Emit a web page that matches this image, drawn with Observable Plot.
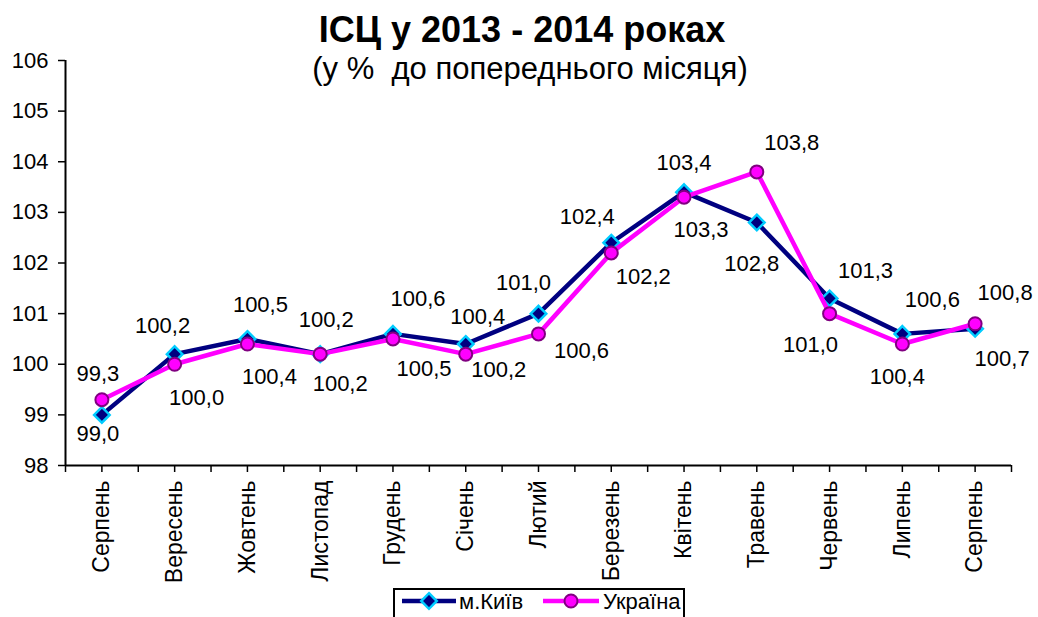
<!DOCTYPE html>
<html>
<head>
<meta charset="utf-8">
<script src="https://cdn.jsdelivr.net/npm/d3@7"></script>
<script src="https://cdn.jsdelivr.net/npm/@observablehq/plot@0.6"></script>
<style>
  body { margin: 0; background: #fff; font-family: "Liberation Sans", Arial, sans-serif; }
  #wrap { position: relative; width: 1038px; height: 617px; overflow: hidden; background: #fff; }
  #chart { position: absolute; left: 0; top: 0; }
  .ov { position: absolute; white-space: pre; color: #000; line-height: 1; }
  #title { left: 0; width: 1044px; text-align: center; top: 12px; font-size: 36px; font-weight: bold; }
  #subtitle { left: 0; width: 1060px; text-align: center; top: 53px; font-size: 31px; }
  #legend { position: absolute; left: 393px; top: 588px; width: 292px; height: 40px; border: 2px solid #000; box-sizing: border-box; background: #fff; }
  .lg { position: absolute; font-size: 22px; line-height: 1; top: 591px; }
  .sw { position: absolute; top: 591px; }
</style>
</head>
<body>
<div id="wrap">
  <div id="chart"></div>
  <div id="title" class="ov"></div>
  <div id="subtitle" class="ov"></div>
  <div id="legend"></div>
  <svg class="sw" id="sw0" style="left:402px" width="54" height="20"></svg>
  <div class="lg" id="lg0" style="left:459px"></div>
  <svg class="sw" id="sw1" style="left:543px" width="56" height="20"></svg>
  <div class="lg" id="lg1" style="left:603px"></div>
</div>
<script>
// ---- data ----
const titleText = "ІСЦ у 2013 - 2014 роках";
const subtitleText = "(у %  до попереднього місяця)";
const months = ["Серпень","Вересень","Жовтень","Листопад","Грудень","Січень","Лютий","Березень","Квітень","Травень","Червень","Липень","Серпень"];
const seriesNames = ["м.Київ", "Україна"];
const kyiv    = [99.0, 100.2, 100.5, 100.2, 100.6, 100.4, 101.0, 102.4, 103.4, 102.8, 101.3, 100.6, 100.7];
const ukraine = [99.3, 100.0, 100.4, 100.2, 100.5, 100.2, 100.6, 102.2, 103.3, 103.8, 101.0, 100.4, 100.8];
const yTicks = [98, 99, 100, 101, 102, 103, 104, 105, 106];

// ---- layout (label offsets in px, relative to point) ----
const kyivLabelOffsets = [[-4,19],[-12,-28],[13,-34],[6,-34],[25,-35],[12,-27],[-15,-31],[-24,-26],[0,-29],[-5,41],[36,-27],[30,-34],[27,30]];
const ukrLabelOffsets  = [[-4,-26],[22,34],[22,33],[20,30],[31,30],[33,16],[43,17],[32,24],[17,33],[35,-29],[-19,31],[-5,33],[30,-31]];

const colors = { kyivLine: "#000080", kyivMarkerStroke: "#00CCFF", ukrLine: "#FF00FF", ukrMarkerStroke: "#800080" };

document.getElementById("title").textContent = titleText;
document.getElementById("subtitle").textContent = subtitleText;
document.getElementById("lg0").textContent = seriesNames[0];
document.getElementById("lg1").textContent = seriesNames[1];

const kyivRows = kyiv.map((v, i) => ({i, v}));
const ukrRows = ukraine.map((v, i) => ({i, v}));
const fmt = v => v.toFixed(1).replace(".", ",");
const font = "Liberation Sans, Arial, sans-serif";

const labelMarks = (rows, offs) => rows.map((r, k) => Plot.text([r], {
  x: "i", y: "v", text: d => fmt(d.v), dx: offs[k][0], dy: offs[k][1],
  fontSize: 22, fill: "#000", textAnchor: "middle", lineAnchor: "middle"
}));

const chart = Plot.plot({
  width: 1038,
  height: 617,
  marginTop: 60,
  marginBottom: 152,
  marginLeft: 65,
  marginRight: 27,
  style: { fontFamily: font, background: "transparent", color: "#000" },
  x: { type: "linear", domain: [-0.5, 12.5] },
  y: { domain: [98, 106] },
  marks: [
    Plot.axisY({ ticks: yTicks, tickSize: 7, tickPadding: 10, fontSize: 22, tickFormat: d => String(d), label: null, strokeWidth: 1.5 }),
    Plot.axisX({ ticks: d3.range(27).map(k => k / 2 - 0.5), tickSize: 7, tickFormat: () => "", label: null, strokeWidth: 1.5 }),
    Plot.axisX({ ticks: d3.range(13), tickSize: 0, tickPadding: 15, tickRotate: -90, fontSize: 23, tickFormat: k => months[k], label: null }),
    Plot.ruleY([98], { stroke: "#000", strokeWidth: 2 }),
    Plot.ruleX([-0.5], { stroke: "#000", strokeWidth: 2 }),
    Plot.line(kyivRows, { x: "i", y: "v", stroke: colors.kyivLine, strokeWidth: 4.5, strokeLinejoin: "round" }),
    Plot.dot(kyivRows, { x: "i", y: "v", symbol: "diamond2", r: 7, fill: colors.kyivLine, stroke: colors.kyivMarkerStroke, strokeWidth: 2.5 }),
    Plot.line(ukrRows, { x: "i", y: "v", stroke: colors.ukrLine, strokeWidth: 4.5, strokeLinejoin: "round" }),
    Plot.dot(ukrRows, { x: "i", y: "v", symbol: "circle", r: 6.5, fill: colors.ukrLine, stroke: colors.ukrMarkerStroke, strokeWidth: 2 }),
    ...labelMarks(kyivRows, kyivLabelOffsets),
    ...labelMarks(ukrRows, ukrLabelOffsets)
  ]
});
document.getElementById("chart").appendChild(chart);

// legend swatches
function swatch(id, lineColor, symbol, fill, stroke, sw, r) {
  const s = d3.select("#" + id);
  const w = +s.attr("width");
  s.append("line").attr("x1", 0).attr("x2", w).attr("y1", 10).attr("y2", 10).attr("stroke", lineColor).attr("stroke-width", 4.5);
  s.append("path").attr("transform", `translate(${w/2},10)`).attr("d", d3.symbol(symbol, Math.PI * r * r)())
    .attr("fill", fill).attr("stroke", stroke).attr("stroke-width", sw);
}
swatch("sw0", colors.kyivLine, d3.symbolDiamond2, colors.kyivLine, colors.kyivMarkerStroke, 2.5, 7);
swatch("sw1", colors.ukrLine, d3.symbolCircle, colors.ukrLine, colors.ukrMarkerStroke, 2, 6.5);
</script>
</body>
</html>
